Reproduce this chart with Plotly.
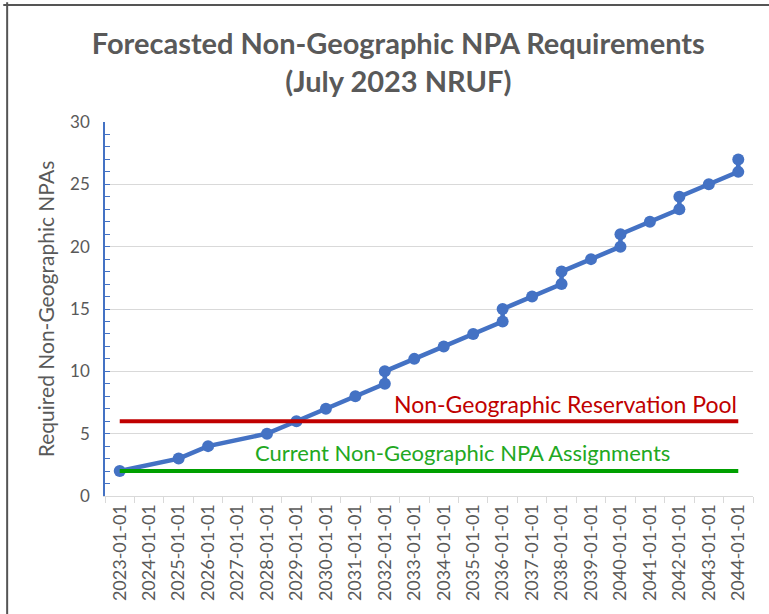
import plotly.graph_objects as go

categories = [f"{y}-01-01" for y in range(2023, 2045)]

# Forecast points (category, value) - some years have two points
forecast_x = ["2023-01-01", "2025-01-01", "2026-01-01", "2028-01-01", "2029-01-01",
              "2030-01-01", "2031-01-01", "2032-01-01", "2032-01-01", "2033-01-01",
              "2034-01-01", "2035-01-01", "2036-01-01", "2036-01-01", "2037-01-01",
              "2038-01-01", "2038-01-01", "2039-01-01", "2040-01-01", "2040-01-01",
              "2041-01-01", "2042-01-01", "2042-01-01", "2043-01-01", "2044-01-01",
              "2044-01-01"]
forecast_y = [2, 3, 4, 5, 6, 7, 8, 9, 10, 11, 12, 13, 14, 15, 16, 17, 18, 19, 20, 21,
              22, 23, 24, 25, 26, 27]

reservation_pool = [6] * len(categories)
current_assignments = [2] * len(categories)

FONT = "Lato, 'Open Sans', sans-serif"
GRAY = "#595959"

fig = go.Figure()
fig.add_trace(go.Scatter(x=forecast_x, y=forecast_y, mode="lines+markers",
                         line=dict(color="#4472C4", width=4.5),
                         marker=dict(color="#4472C4", size=12),
                         showlegend=False, hoverinfo="x+y"))
fig.add_trace(go.Scatter(x=categories, y=reservation_pool, mode="lines",
                         line=dict(color="#C00000", width=4), showlegend=False))
fig.add_trace(go.Scatter(x=categories, y=current_assignments, mode="lines",
                         line=dict(color="#00A000", width=4), showlegend=False))

fig.update_layout(
    width=769, height=614,
    margin=dict(l=105, r=16, t=122, b=118),
    paper_bgcolor="white", plot_bgcolor="white",
    font=dict(family=FONT, color=GRAY),
    title=dict(text="<b>Forecasted Non-Geographic NPA Requirements<br>(July 2023 NRUF)</b>",
               x=0.518, xanchor="center", y=0.912, yanchor="top",
               font=dict(size=29, color=GRAY, family=FONT)),
    xaxis=dict(type="category", categoryorder="array", categoryarray=categories,
               range=[-0.5, len(categories) - 0.5],
               tickangle=-90, tickson="boundaries", ticks="outside", ticklen=6,
               tickcolor="#D9D9D9", showline=True, linecolor="#D9D9D9", linewidth=1,
               showgrid=False, tickfont=dict(size=18, color=GRAY)),
    yaxis=dict(range=[0, 30], dtick=5, showgrid=True, gridcolor="#D9D9D9", gridwidth=1,
               showline=True, linecolor="#4472C4", linewidth=1.5,
               ticks="inside", ticklen=5, tickcolor="#4472C4",
               minor=dict(dtick=1, ticks="inside", ticklen=5, tickcolor="#4472C4", showgrid=False),
               zeroline=False, tickfont=dict(size=17, color=GRAY), ticklabelstandoff=10,
               title=dict(text="Required Non-Geographic NPAs", font=dict(size=21, color=GRAY),
                          standoff=10)),
    shapes=[
        dict(type="line", xref="paper", yref="paper", x0=-0.157, x1=1.03, y0=1.313, y1=1.313,
             line=dict(color="#555555", width=2)),
        dict(type="line", xref="paper", yref="paper", x0=-0.151, x1=-0.151, y0=1.32, y1=-0.5,
             line=dict(color="#555555", width=2)),
    ],
    annotations=[
        dict(text="Non-Geographic Reservation Pool", xref="paper", yref="y", x=0.710, y=7.4,
             xanchor="center", showarrow=False, font=dict(size=23, color="#C00000", family=FONT)),
        dict(text="Current Non-Geographic NPA Assignments", xref="paper", yref="y", x=0.551, y=3.45,
             xanchor="center", showarrow=False, font=dict(size=22, color="#22A822", family=FONT)),
    ],
)

fig.write_html("out.html", config={"displayModeBar": False},
               post_script="document.body.style.margin='0';document.body.style.overflow='hidden';")
